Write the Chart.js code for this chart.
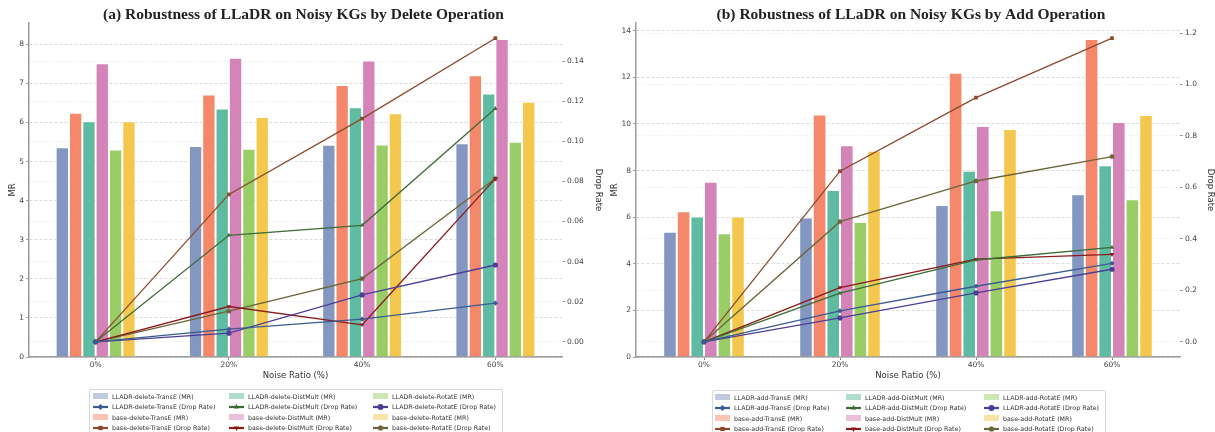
<!DOCTYPE html>
<html>
<head>
<meta charset="utf-8">
<title>Robustness of LLaDR on Noisy KGs</title>
<script src="https://cdn.jsdelivr.net/npm/chart.js@4.4.1/dist/chart.umd.min.js"></script>
<style>
  html, body { margin: 0; padding: 0; background: #fff; }
  #wrap { position: relative; width: 1215px; height: 432px; overflow: hidden; }
  canvas.panel { position: absolute; top: 0; }
  .legend { position: absolute; border: 1px solid #d8d8d8; border-radius: 2px; background: #fff; height: 60px; }
  .legend .item { position: absolute; display: flex; align-items: center; height: 10px; white-space: nowrap;
    font-family: 'DejaVu Sans', sans-serif; font-size: 6.3px; color: #333; }
  .legend .item canvas { margin-right: 4px; }
</style>
</head>
<body>
<div id="wrap">
  <canvas id="chartDelete" class="panel" width="607" height="432" style="left:0px"></canvas>
  <canvas id="chartAdd" class="panel" width="608" height="432" style="left:607px"></canvas>
  <div id="legendDelete" class="legend" style="left:89px; top:389px; width:412px;"></div>
  <div id="legendAdd" class="legend" style="left:712px; top:390px; width:392px;"></div>
</div>
<script>
const noiseRatios = ['0%', '20%', '40%', '60%'];
const models = ['TransE', 'DistMult', 'RotatE'];

// MR, delete operation
const delLladrTransE = [5.37, 5.40, 5.43, 5.47];
const delBaseTransE = [6.25, 6.72, 6.96, 7.21];
const delLladrDistMult = [6.03, 6.36, 6.39, 6.74];
const delBaseDistMult = [7.52, 7.66, 7.59, 8.14];
const delLladrRotatE = [5.31, 5.33, 5.44, 5.51];
const delBaseRotatE = [6.03, 6.14, 6.24, 6.53];

// drop rate, delete operation
const delDropLladrTransE = [0, 0.0063, 0.0113, 0.0193];
const delDropLladrDistMult = [0, 0.0531, 0.0581, 0.1163];
const delDropLladrRotatE = [0, 0.0043, 0.0234, 0.0383];
const delDropBaseTransE = [0, 0.0735, 0.1113, 0.1514];
const delDropBaseDistMult = [0, 0.0176, 0.0085, 0.0814];
const delDropBaseRotatE = [0, 0.0153, 0.0315, 0.0814];

// MR, add operation
const addLladrTransE = [5.37, 5.99, 6.52, 6.98];
const addBaseTransE = [6.25, 10.41, 12.20, 13.65];
const addLladrDistMult = [6.03, 7.17, 7.99, 8.23];
const addBaseDistMult = [7.52, 9.09, 9.91, 10.08];
const addLladrRotatE = [5.31, 5.79, 6.30, 6.77];
const addBaseRotatE = [6.03, 8.85, 9.78, 10.38];

// drop rate, add operation
const addDropLladrTransE = [0, 0.120, 0.216, 0.305];
const addDropLladrDistMult = [0, 0.189, 0.318, 0.367];
const addDropLladrRotatE = [0, 0.093, 0.190, 0.282];
const addDropBaseTransE = [0, 0.663, 0.949, 1.180];
const addDropBaseDistMult = [0, 0.211, 0.321, 0.340];
const addDropBaseRotatE = [0, 0.467, 0.625, 0.720];

const mrTicksDelete = [0, 1, 2, 3, 4, 5, 6, 7, 8];
const dropTicksDelete = [0, 0.02, 0.04, 0.06, 0.08, 0.10, 0.12, 0.14];
const mrTicksAdd = [0, 2, 4, 6, 8, 10, 12, 14];
const dropTicksAdd = [0, 0.2, 0.4, 0.6, 0.8, 1.0, 1.2];

const barColors = { lladr: ['#8497c1', '#5fbba1', '#9bcd66'], base: ['#f5886a', '#d584b9', '#f4c84e'] };
const barLegendColors = { lladr: ['#c1cbe0', '#afddd0', '#cde6b2'], base: ['#fac3b4', '#eac1dc', '#f9e3a6'] };
const lineColors = { lladr: ['#3b5b92', '#3d6b35', '#4a3f95'], base: ['#8b4a2b', '#8b1a1a', '#6b6438'] };
const markers = { lladr: ['rectRot', 'triangle', 'circle'], base: ['rect', 'triangleDown', 'pentagon'] };

const tickFont = { family: 'DejaVu Sans', size: 7.5 };
const axisFont = { family: 'DejaVu Sans', size: 8.5 };

function pentagonImage(color, r) {
  const c = document.createElement('canvas');
  c.width = c.height = Math.ceil(2 * r + 2);
  const ctx = c.getContext('2d');
  ctx.fillStyle = color;
  ctx.beginPath();
  for (let i = 0; i < 5; i++) {
    const a = -Math.PI / 2 + i * 2 * Math.PI / 5;
    const px = c.width / 2 + r * Math.cos(a);
    const py = c.height / 2 + r * Math.sin(a);
    if (i === 0) ctx.moveTo(px, py); else ctx.lineTo(px, py);
  }
  ctx.closePath();
  ctx.fill();
  return c;
}

function pointOpts(style, color, r) {
  if (style === 'pentagon') return { pointStyle: pentagonImage(color, r), rotation: 0 };
  if (style === 'triangleDown') return { pointStyle: 'triangle', rotation: 180 };
  return { pointStyle: style, rotation: 0 };
}

function buildPanel(p) {
  const datasets = [];
  models.forEach((m, i) => {
    ['lladr', 'base'].forEach((kind) => {
      datasets.push({
        type: 'bar',
        label: `${kind === 'lladr' ? 'LLADR' : 'base'}-${p.op}-${m} (MR)`,
        data: p.mr[kind][i],
        backgroundColor: barColors[kind][i],
        borderColor: 'rgba(255,255,255,0.9)',
        borderWidth: 1,
        categoryPercentage: 0.6,
        barPercentage: 1.0,
        yAxisID: 'y',
        order: 2,
      });
    });
  });
  ['lladr', 'base'].forEach((kind) => {
    models.forEach((m, i) => {
      const col = lineColors[kind][i];
      const pt = pointOpts(markers[kind][i], col, 2.8);
      datasets.push({
        type: 'line',
        label: `${kind === 'lladr' ? 'LLADR' : 'base'}-${p.op}-${m} (Drop Rate)`,
        data: p.drop[kind][i],
        borderColor: col,
        backgroundColor: col,
        borderWidth: 1.3,
        pointStyle: pt.pointStyle,
        pointRotation: pt.rotation,
        pointRadius: 2.6,
        pointBorderWidth: 0,
        fill: false,
        tension: 0,
        yAxisID: 'y2',
        order: 1,
      });
    });
  });

  const allMr = [].concat(...p.mr.lladr, ...p.mr.base);
  const allDrop = [].concat(...p.drop.lladr, ...p.drop.base);
  const dMin = Math.min(...allDrop);
  const dMax = Math.max(...allDrop);
  const dPad = (dMax - dMin) * 0.05;

  new Chart(p.canvas, {
    data: { labels: noiseRatios, datasets },
    options: {
      responsive: false,
      animation: false,
      layout: { padding: { top: 0, left: 0, right: 0, bottom: 45 } },
      plugins: {
        legend: { display: false },
        tooltip: { enabled: false },
        title: {
          display: true,
          text: p.title,
          color: '#222',
          font: { family: 'Liberation Serif', size: 15.5, weight: 'bold', lineHeight: 1.0 },
          padding: { top: 7.5, bottom: 0 },
        },
      },
      scales: {
        x: {
          offset: true,
          grid: { display: true, offset: false, drawOnChartArea: false, drawTicks: true, tickLength: 3, tickColor: '#888' },
          border: { color: '#9a9a9a', width: 1.5 },
          ticks: { font: tickFont, color: '#444', padding: 1 },
          title: { display: true, text: 'Noise Ratio (%)', font: axisFont, color: '#333', padding: { top: 0, bottom: 6 } },
          afterFit: (s) => { s.height = 30; },
        },
        y: {
          position: 'left',
          min: 0,
          max: Math.max(...allMr) * 1.05,
          afterBuildTicks: (s) => { s.ticks = p.mrTicks.map((v) => ({ value: v })); },
          grid: { color: '#d2d2d2', lineWidth: 0.8, tickLength: 3, tickColor: '#888', tickBorderDash: [] },
          border: { color: '#9a9a9a', width: 1.5, dash: [3, 2] },
          ticks: { font: tickFont, color: '#444', padding: 2 },
          title: { display: true, text: 'MR', font: axisFont, color: '#333', padding: { top: p.mrTitlePad, bottom: 0 } },
          afterFit: (s) => { s.width = 29; },
        },
        y2: {
          position: 'right',
          min: dMin - dPad,
          max: dMax + dPad,
          afterBuildTicks: (s) => { s.ticks = p.dropTicks.map((v) => ({ value: v })); },
          grid: { color: '#dedede', lineWidth: 0.8, tickLength: 3, tickColor: '#888', tickBorderDash: [] },
          border: { display: false, dash: [1, 2] },
          ticks: { font: tickFont, color: '#444', padding: 2, callback: (v) => Number(v).toFixed(p.dropDigits) },
          title: { display: true, text: 'Drop Rate', font: axisFont, color: '#333', padding: { top: p.dropTitlePad, bottom: 0 } },
          afterFit: (s) => { s.width = p.y2Width; },
        },
      },
    },
  });

  // legend, 3 columns filled column by column
  const box = document.getElementById(p.legend);
  models.forEach((m, c) => {
    const rows = [
      { kind: 'lladr', type: 'bar', text: `LLADR-${p.op}-${m} (MR)` },
      { kind: 'lladr', type: 'line', text: `LLADR-${p.op}-${m} (Drop Rate)` },
      { kind: 'base', type: 'bar', text: `base-${p.op}-${m} (MR)` },
      { kind: 'base', type: 'line', text: `base-${p.op}-${m} (Drop Rate)` },
    ];
    rows.forEach((r, ri) => {
      const item = document.createElement('div');
      item.className = 'item';
      item.style.left = p.legendCols[c] + 'px';
      item.style.top = (legendRows[ri] - 5) + 'px';
      const ic = document.createElement('canvas');
      ic.width = 15; ic.height = 8;
      const ctx = ic.getContext('2d');
      if (r.type === 'bar') {
        ctx.fillStyle = barLegendColors[r.kind][c];
        ctx.fillRect(0, 1, 15, 6);
      } else {
        const col = lineColors[r.kind][c];
        ctx.strokeStyle = col;
        ctx.fillStyle = col;
        ctx.lineWidth = 2.2;
        ctx.beginPath(); ctx.moveTo(0, 4); ctx.lineTo(15, 4); ctx.stroke();
        const pt = pointOpts(markers[r.kind][c], col, 3);
        if (typeof pt.pointStyle === 'string') {
          Chart.helpers.drawPoint(ctx, { pointStyle: pt.pointStyle, rotation: pt.rotation, radius: 3, borderWidth: 0 }, 7.5, 4);
        } else {
          ctx.drawImage(pt.pointStyle, 7.5 - pt.pointStyle.width / 2, 4 - pt.pointStyle.height / 2);
        }
      }
      item.appendChild(ic);
      item.appendChild(document.createTextNode(r.text));
      box.appendChild(item);
    });
  });
}

const legendRows = [6, 16.5, 27, 37.5];

document.addEventListener('DOMContentLoaded', () => {
  if (typeof Chart === 'undefined') {
    return;
  }

  buildPanel({
    canvas: 'chartDelete',
    legend: 'legendDelete',
    op: 'delete',
    title: '(a) Robustness of LLaDR on Noisy KGs by Delete Operation',
    mr: {
      lladr: [delLladrTransE, delLladrDistMult, delLladrRotatE],
      base: [delBaseTransE, delBaseDistMult, delBaseRotatE],
    },
    drop: {
      lladr: [delDropLladrTransE, delDropLladrDistMult, delDropLladrRotatE],
      base: [delDropBaseTransE, delDropBaseDistMult, delDropBaseRotatE],
    },
    mrTicks: mrTicksDelete,
    dropTicks: dropTicksDelete,
    dropDigits: 2,
    y2Width: 45,
    mrTitlePad: 8,
    dropTitlePad: 4,
    legendCols: [3, 139, 283],
  });

  buildPanel({
    canvas: 'chartAdd',
    legend: 'legendAdd',
    op: 'add',
    title: '(b) Robustness of LLaDR on Noisy KGs by Add Operation',
    mr: {
      lladr: [addLladrTransE, addLladrDistMult, addLladrRotatE],
      base: [addBaseTransE, addBaseDistMult, addBaseRotatE],
    },
    drop: {
      lladr: [addDropLladrTransE, addDropLladrDistMult, addDropLladrRotatE],
      base: [addDropBaseTransE, addDropBaseDistMult, addDropBaseRotatE],
    },
    mrTicks: mrTicksAdd,
    dropTicks: dropTicksAdd,
    dropDigits: 1,
    y2Width: 35,
    mrTitlePad: 3,
    dropTitlePad: 0,
    legendCols: [2, 133, 271],
  });
});
</script>
</body>
</html>
